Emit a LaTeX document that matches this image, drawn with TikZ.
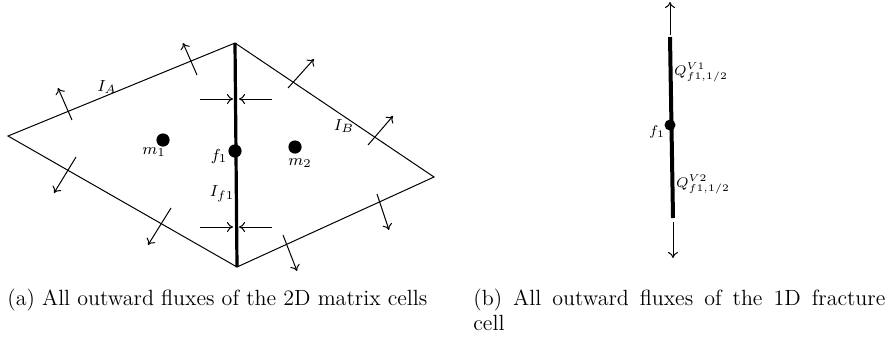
\documentclass[tikz,border=0pt]{standalone}
\usepackage{amsmath}
\usepackage{tikz}
\usetikzlibrary{arrows.meta}

\begin{document}
\begin{tikzpicture}[
  x=0.5pt, y=-0.5pt,
  font=\footnotesize,
  edge/.style={line width=0.5pt},
  frac/.style={line width=1.6pt},
  flux/.style={->, line width=0.5pt},
  dot/.style={circle, fill, inner sep=0pt, minimum size=6.6pt},
  lbl/.style={inner sep=0pt},
  qlbl/.style={inner sep=0pt, font=\fontsize{7}{8}\selectfont},
  capt/.style={font=\fontsize{11}{12.5}\selectfont, inner sep=0pt},
  >={To[length=3pt,width=5pt]},
]
\useasboundingbox (0,0) rectangle (892,339);

% (a) the two matrix cells
\coordinate (L) at (8,136);
\coordinate (T) at (235,43);
\coordinate (B) at (237,267);
\coordinate (R) at (434,177);
\draw[edge] (T) -- (L) -- (B) -- (R) -- cycle;
\draw[frac] (T) -- (B);

\node[dot] (m1) at (163,140) {};
\node[dot] (f1) at (235,151) {};
\node[dot] (m2) at (295,147) {};
\node[lbl] (m1l) at (154,152) {$m_1$};
\node[lbl] (f1l) at (219,156) {$f_1$};
\node[lbl] (m2l) at (300,163) {$m_2$};
\node[lbl] (IA) at (107,87) {$I_A$};
\node[lbl] (IB) at (344,126) {$I_B$};
\node[lbl] (If) at (222,194) {$I_{f1}$};

% outward fluxes
\draw[flux] (197,75) -- (183,43);
\draw[flux] (72,120) -- (58,88);
\draw[flux] (76,157) -- (54,193);
\draw[flux] (171,208) -- (148,245);
\draw[flux] (288,88) -- (314,59);
\draw[flux] (368,145) -- (393,116);
\draw[flux] (283,235) -- (297,271);
\draw[flux] (377,194) -- (389,230);

% fluxes into the fracture
\foreach \y in {99,227}{
  \draw[flux] (200,\y) -- (233,\y);
  \draw[flux] (272,\y) -- (239,\y);
}

% (b) the fracture cell
\coordinate (FT) at (670,37);
\coordinate (FB) at (673,218);
\draw[line width=2pt] (FT) -- (FB);
\node[dot, minimum size=5.5pt] (g1) at (670,125) {};
\node[lbl, font=\scriptsize] (g1l) at (657,132) {$f_1$};
\draw[flux] (670,35) -- (670,2);
\draw[flux] (673,222) -- (673,258);
\node[qlbl] (Q1) at (701,72) {$Q^{V1}_{f1,1/2}$};
\node[qlbl] (Q2) at (703,184) {$Q^{V2}_{f1,1/2}$};

% captions
\node[capt, anchor=base west] (capa) at (7,305) {(a) All outward fluxes of the 2D matrix cells};
\node[capt, anchor=base west, text width=206pt, align=justify] (capb) at (473,305)
  {(b) All outward fluxes of the 1D fracture\linebreak cell};
\end{tikzpicture}
\end{document}
